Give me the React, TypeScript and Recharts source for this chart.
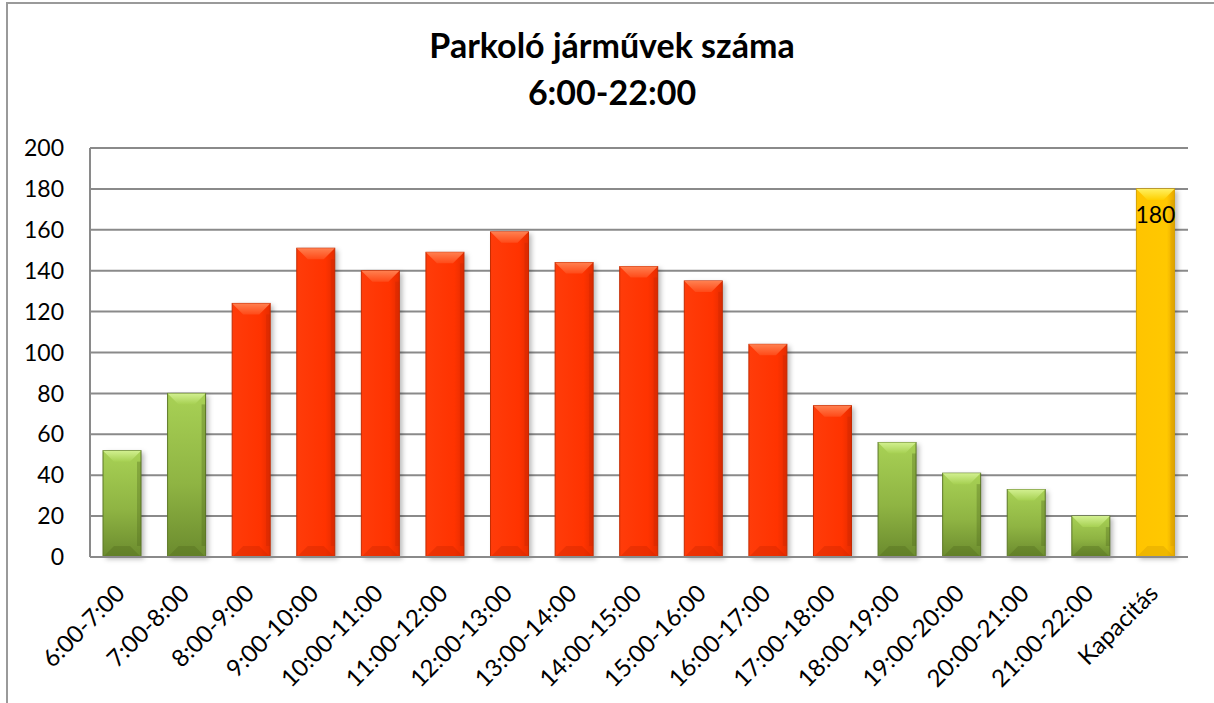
import React from 'react'
import { BarChart, Bar, XAxis, YAxis, CartesianGrid, LabelList } from 'recharts'

const categories = [
  '6:00-7:00', '7:00-8:00', '8:00-9:00', '9:00-10:00', '10:00-11:00', '11:00-12:00',
  '12:00-13:00', '13:00-14:00', '14:00-15:00', '15:00-16:00', '16:00-17:00', '17:00-18:00',
  '18:00-19:00', '19:00-20:00', '20:00-21:00', '21:00-22:00', 'Kapacitás',
]
const vehicles = [52, 80, 124, 151, 140, 149, 159, 144, 142, 135, 104, 74, 56, 41, 33, 20, 180]
// which colour group each column belongs to
const groups = [
  'off', 'off', 'peak', 'peak', 'peak', 'peak', 'peak', 'peak', 'peak', 'peak', 'peak', 'peak',
  'off', 'off', 'off', 'off', 'cap',
]
const yTicks = [0, 20, 40, 60, 80, 100, 120, 140, 160, 180, 200]
const titleLines = ['Parkoló járművek száma', '6:00-22:00']

const data = categories.map((name, i) => ({
  name,
  value: vehicles[i],
  group: groups[i],
  label: groups[i] === 'cap' ? vehicles[i] : undefined,
}))

const FONT = 'Lato, "Open Sans", sans-serif'

const palette: Record<string, { dark: string; edge: string }> = {
  peak: { dark: '#c92600', edge: '#c42a00' },
  off: { dark: '#4f6a1c', edge: '#5c7826' },
  cap: { dark: '#d09a00', edge: '#d6a200' },
}

const BevelBar = (props: any) => {
  const { x, y, width, height, payload } = props
  if (!height || height <= 0) return null
  const kind = payload.group
  const p = palette[kind]
  const b = Math.min(11, height / 2)
  return (
    <g>
      <rect x={x + 3} y={y + 2} width={width} height={height} fill="rgba(0,0,0,0.28)" filter="url(#barShadow)" />
      <rect x={x} y={y} width={width} height={height} fill={`url(#body-${kind})`} stroke={p.edge} strokeWidth={1} />
      <polygon
        points={`${x},${y} ${x + width},${y} ${x + width - b},${y + b} ${x + b},${y + b}`}
        fill={`url(#top-${kind})`}
      />
      <polygon
        points={`${x},${y + height} ${x + width},${y + height} ${x + width - b},${y + height - b} ${x + b},${y + height - b}`}
        fill={p.dark}
        opacity={0.35}
      />
      <rect x={x + width - 4} y={y + b} width={4} height={Math.max(0, height - 2 * b)} fill={p.dark} opacity={0.35} />
    </g>
  )
}

const AngledTick = (props: any) => {
  const { x, y, payload } = props
  const ax = x + 4
  const ay = y + 38
  return (
    <text
      x={ax}
      y={ay}
      transform={`rotate(-45, ${ax}, ${ay})`}
      textAnchor="end"
      fontSize={24}
      fontFamily={FONT}
      fill="#000"
    >
      {payload.value}
    </text>
  )
}

export default function App() {
  return (
    <div style={{ position: 'absolute', left: 0, top: 0, width: 1214, height: 703, background: '#fff', overflow: 'hidden' }}>
      <div style={{ position: 'absolute', left: 6, top: 2, width: 2, height: 701, background: '#9a9a9a' }} />
      <div style={{ position: 'absolute', left: 6, top: 2, width: 1208, height: 2, background: '#9a9a9a' }} />
      <div
        style={{
          position: 'absolute',
          left: 5,
          top: 21,
          width: 1214,
          textAlign: 'center',
          fontFamily: FONT,
          fontWeight: 700,
          fontSize: 34,
          lineHeight: '47px',
          color: '#000',
        }}
      >
        {titleLines.map((t) => (
          <div key={t}>{t}</div>
        ))}
      </div>
      <div style={{ position: 'absolute', left: 0, top: 0 }}>
        <BarChart
          width={1214}
          height={703}
          data={data}
          margin={{ top: 148, right: 26, left: 30, bottom: 46 }}
          barSize={38}
        >
          <defs>
            <filter id="barShadow" x="-20%" y="-10%" width="140%" height="120%">
              <feGaussianBlur stdDeviation="2.5" />
            </filter>
            <linearGradient id="body-peak" x1="0" y1="0" x2="1" y2="0">
              <stop offset="0%" stopColor="#ff3c0a" />
              <stop offset="75%" stopColor="#ff3300" />
              <stop offset="100%" stopColor="#e52c00" />
            </linearGradient>
            <linearGradient id="body-off" x1="0" y1="0" x2="0" y2="1">
              <stop offset="0%" stopColor="#a8d155" />
              <stop offset="55%" stopColor="#8fb443" />
              <stop offset="100%" stopColor="#6b8b2e" />
            </linearGradient>
            <linearGradient id="body-cap" x1="0" y1="0" x2="1" y2="0">
              <stop offset="0%" stopColor="#ffc400" />
              <stop offset="80%" stopColor="#ffc800" />
              <stop offset="100%" stopColor="#e8a800" />
            </linearGradient>
            <linearGradient id="top-peak" x1="0" y1="0" x2="0" y2="1">
              <stop offset="0%" stopColor="#ff8050" />
              <stop offset="100%" stopColor="#ff4a18" />
            </linearGradient>
            <linearGradient id="top-off" x1="0" y1="0" x2="0" y2="1">
              <stop offset="0%" stopColor="#d2f090" />
              <stop offset="100%" stopColor="#a6d052" />
            </linearGradient>
            <linearGradient id="top-cap" x1="0" y1="0" x2="0" y2="1">
              <stop offset="0%" stopColor="#fff060" />
              <stop offset="100%" stopColor="#ffd000" />
            </linearGradient>
          </defs>
          <CartesianGrid horizontal vertical={false} stroke="#8a8a8a" strokeWidth={2} />
          <XAxis
            dataKey="name"
            interval={0}
            height={100}
            tickLine={false}
            tickSize={0}
            tickMargin={0}
            axisLine={{ stroke: '#8a8a8a', strokeWidth: 2 }}
            tick={<AngledTick />}
          />
          <YAxis
            domain={[0, 200]}
            ticks={yTicks}
            interval={0}
            width={60}
            tickLine={false}
            tickSize={0}
            tickMargin={26}
            axisLine={{ stroke: '#8a8a8a', strokeWidth: 2 }}
            tick={{ fontSize: 23, fontFamily: FONT, fill: '#000' }}
          />
          <Bar dataKey="value" shape={<BevelBar />} isAnimationActive={false}>
            <LabelList
              dataKey="label"
              position="insideTop"
              offset={18}
              fontSize={23}
              fontFamily={FONT}
              fill="#000"
            />
          </Bar>
        </BarChart>
      </div>
    </div>
  )
}
